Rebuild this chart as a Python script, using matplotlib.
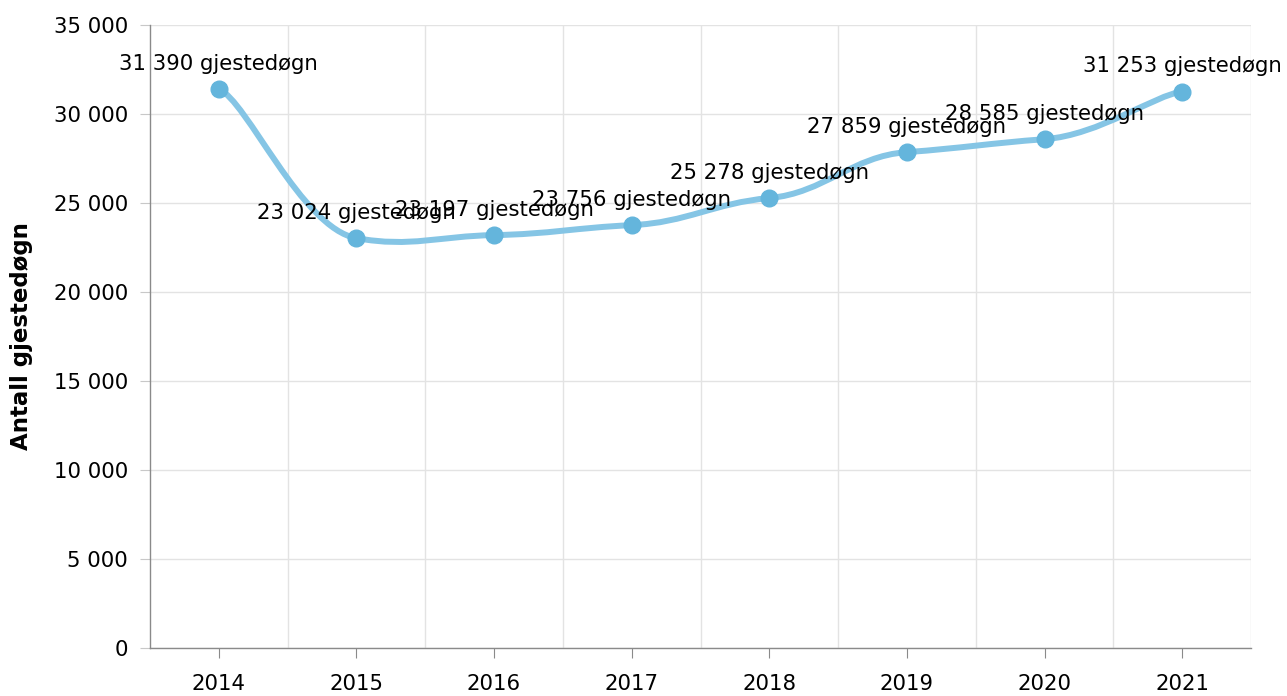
import matplotlib
matplotlib.use("Agg")
import matplotlib.pyplot as plt
from matplotlib.path import Path
from matplotlib.patches import PathPatch
from matplotlib.ticker import FuncFormatter

years = ["2014", "2015", "2016", "2017", "2018", "2019", "2020", "2021"]
values = [31390, 23024, 23197, 23756, 25278, 27859, 28585, 31253]
y_ticks = [0, 5000, 10000, 15000, 20000, 25000, 30000, 35000]
label_suffix = " gjestedøgn"
y_title = "Antall gjestedøgn"

LINE_COLOR = "#85c5e5"
MARKER_COLOR = "#64b5dc"
GRID_COLOR = "#e3e3e3"
AXIS_COLOR = "#8a8a8a"
FS = 15.3

plt.rcParams["font.family"] = ["DejaVu Sans"]

fig = plt.figure(figsize=(12.87, 6.96), dpi=100)
ax = fig.add_axes([150 / 1287, 48 / 696, 1101 / 1287, 623 / 696])

xs = list(range(len(values)))


def fmt(v):
    return f"{int(round(v)):,}".replace(",", " ")


# Smoothed line: cardinal-style bezier with separate x / y tension
TX, TY = 1.2, 0.4
n = len(xs)
verts = [(xs[0], values[0])]
codes = [Path.MOVETO]
for i in range(n - 1):
    p0 = (xs[i - 1], values[i - 1]) if i > 0 else (xs[i], values[i])
    p1 = (xs[i], values[i])
    p2 = (xs[i + 1], values[i + 1])
    p3 = (xs[i + 2], values[i + 2]) if i + 2 < n else p2
    c1 = (p1[0] + (p2[0] - p0[0]) / 6 * TX, p1[1] + (p2[1] - p0[1]) / 6 * TY)
    c2 = (p2[0] - (p3[0] - p1[0]) / 6 * TX, p2[1] - (p3[1] - p1[1]) / 6 * TY)
    verts += [c1, c2, p2]
    codes += [Path.CURVE4] * 3

patch = PathPatch(Path(verts, codes), facecolor="none", edgecolor=LINE_COLOR,
                  lw=4.3, capstyle="round", joinstyle="round", zorder=3)
ax.add_patch(patch)
ax.plot(xs, values, linestyle="none", marker="o", markersize=12,
        color=MARKER_COLOR, zorder=4)

for x, v in zip(xs, values):
    ax.annotate(fmt(v) + label_suffix, (x, v), xytext=(0, 11),
                textcoords="offset points", ha="center", va="bottom",
                fontsize=FS, color="black", zorder=5, annotation_clip=False)

ax.set_xlim(-0.5, n - 0.5)
ax.set_ylim(0, 35000)
ax.set_yticks(y_ticks)
ax.yaxis.set_major_formatter(FuncFormatter(lambda v, p: fmt(v)))
ax.set_xticks(xs)
ax.set_xticklabels(years)
ax.set_xticks([i + 0.5 for i in xs], minor=True)

ax.grid(axis="y", which="major", color=GRID_COLOR, lw=1.0, zorder=0)
ax.grid(axis="x", which="minor", color=GRID_COLOR, lw=1.0, zorder=0)
ax.set_axisbelow(True)

for s in ["top", "right"]:
    ax.spines[s].set_visible(False)
for s in ["left", "bottom"]:
    ax.spines[s].set_color(AXIS_COLOR)
    ax.spines[s].set_linewidth(1.0)

ax.tick_params(axis="x", which="major", length=7, color=AXIS_COLOR,
               labelsize=FS, pad=12, direction="out")
ax.tick_params(axis="x", which="minor", length=0)
ax.tick_params(axis="y", length=7, color="#c8c8c8", labelsize=FS,
               pad=9, direction="out")

ax.set_ylabel(y_title, fontsize=16.5, fontweight="bold")
ax.yaxis.set_label_coords(-117 / 1101, 0.5)

fig.savefig("out.png", dpi=100)
